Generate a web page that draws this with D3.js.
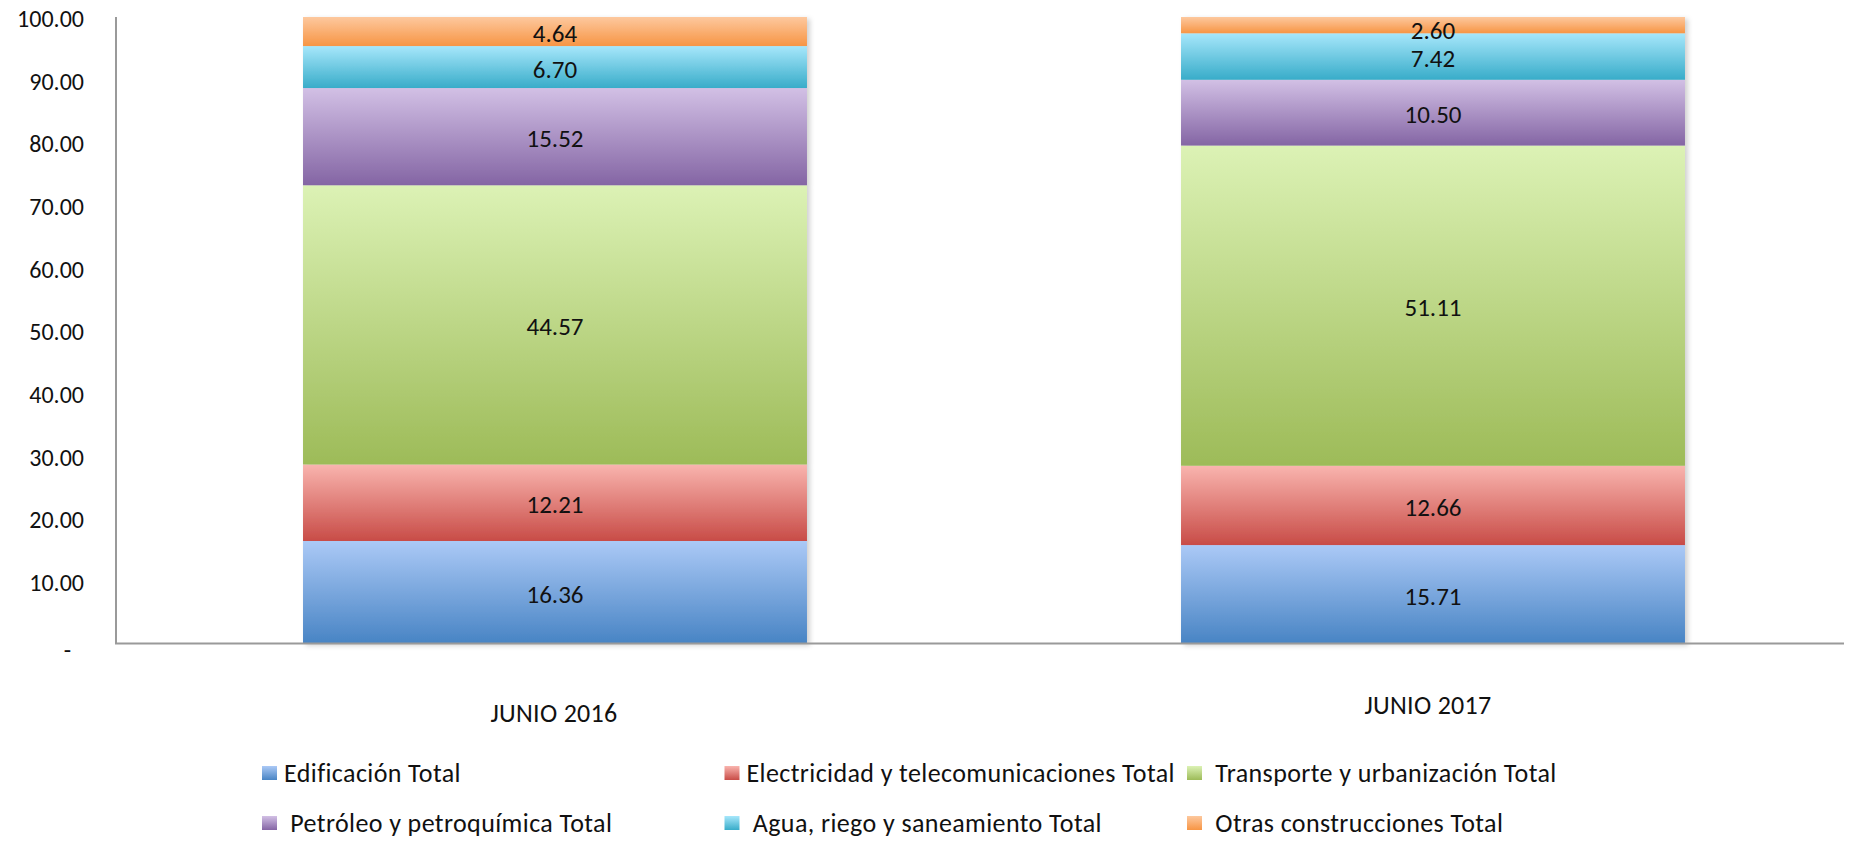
<!DOCTYPE html>
<html>
<head>
<meta charset="utf-8">
<script src="https://cdn.jsdelivr.net/npm/d3@7"></script>
<style>
  body { margin: 0; background: #fff; }
  svg text { font-family: Carlito, Lato, sans-serif; fill: #111; white-space: pre; }
</style>
</head>
<body>
<div id="chart"></div>
<script>
// datos
const periods = ['JUNIO 2016', 'JUNIO 2017'];
const seriesNames = ['Edificación Total', 'Electricidad y telecomunicaciones Total', ' Transporte y urbanización Total',
  ' Petróleo y petroquímica Total', ' Agua, riego y saneamiento Total', ' Otras construcciones Total'];
const edificacion = [16.36, 15.71];
const electricidad = [12.21, 12.66];
const transporte = [44.57, 51.11];
const petroleo = [15.52, 10.50];
const agua = [6.70, 7.42];
const otras = [4.64, 2.60];
const yTicks = [0, 10, 20, 30, 40, 50, 60, 70, 80, 90, 100];

// colores (claro arriba, oscuro abajo)
const topColors = ['#abc9f6', '#f9b4ae', '#dcf2b5', '#d2c0e5', '#a7e7fb', '#fdc89e'];
const bottomColors = ['#4884c4', '#c84c47', '#9dbb58', '#8465a4', '#38acc9', '#f79544'];

const width = 1868, height = 841;
const values = [edificacion, electricidad, transporte, petroleo, agua, otras];

const table = periods.map((p, i) => {
  const row = { period: p };
  seriesNames.forEach((s, k) => row['s' + k] = values[k][i]);
  return row;
});
const keys = seriesNames.map((s, k) => 's' + k);
const stacked = d3.stack().keys(keys)(table);

const svg = d3.select('#chart').append('svg')
  .attr('width', width)
  .attr('height', height);

const defs = svg.append('defs');
keys.forEach((k, i) => {
  const g = defs.append('linearGradient').attr('id', 'grad' + i)
    .attr('x1', 0).attr('y1', 0).attr('x2', 0).attr('y2', 1);
  g.append('stop').attr('offset', '0%').attr('stop-color', topColors[i]);
  g.append('stop').attr('offset', '100%').attr('stop-color', bottomColors[i]);
});
const shadow = defs.append('filter').attr('id', 'shadow')
  .attr('x', '-5%').attr('y', '-5%').attr('width', '115%').attr('height', '115%');
shadow.append('feDropShadow').attr('dx', 3).attr('dy', 2).attr('stdDeviation', 2.5)
  .attr('flood-color', '#000').attr('flood-opacity', 0.18);

const x = d3.scaleBand()
  .domain(periods)
  .range([116, 1872])
  .paddingInner(0.426)
  .paddingOuter(0.213);

const y = d3.scaleLinear()
  .domain([0, 100])
  .range([643.5, 17]);

// eje y
const yAxis = svg.append('g')
  .attr('transform', 'translate(116,0)')
  .call(d3.axisLeft(y).tickValues(yTicks).tickSize(0).tickPadding(32)
    .tickFormat(d => d === 0 ? '-' : d3.format('.2f')(d)));
yAxis.select('.domain').remove();
yAxis.selectAll('text')
  .style('font-size', '24px')
  .attr('dy', '0.4em')
  .attr('dx', d => d === 0 ? -13 : 0)
  .attr('y', d => d === 0 ? 4 : 0);

// barras
const layers = svg.append('g').attr('filter', 'url(#shadow)')
  .selectAll('g')
  .data(stacked)
  .enter().append('g')
  .attr('fill', (d, i) => `url(#grad${i})`);

layers.selectAll('rect')
  .data(d => d)
  .enter().append('rect')
  .attr('x', d => x(d.data.period))
  .attr('width', x.bandwidth())
  .attr('y', d => y(d[1]))
  .attr('height', d => y(d[0]) - y(d[1]));

// etiquetas de datos
const labels = svg.append('g');
stacked.forEach(layer => {
  labels.selectAll(null)
    .data(layer)
    .enter().append('text')
    .attr('x', d => x(d.data.period) + x.bandwidth() / 2)
    .attr('y', d => y((d[0] + d[1]) / 2))
    .attr('dy', d => (d[1] - d[0]) < 4 ? '0.55em' : '0.42em')
    .attr('text-anchor', 'middle')
    .style('font-size', '25px')
    .text(d => d3.format('.2f')(d[1] - d[0]));
});

// ejes
svg.append('line')
  .attr('x1', 116).attr('x2', 116)
  .attr('y1', y(100)).attr('y2', y(0))
  .attr('stroke', '#9a9a9a').attr('stroke-width', 2);
svg.append('line')
  .attr('x1', 115).attr('x2', 1844)
  .attr('y1', y(0)).attr('y2', y(0))
  .attr('stroke', '#9a9a9a').attr('stroke-width', 2);

// categorias
const catOffset = [0, -8];
svg.append('g')
  .selectAll('text')
  .data(periods)
  .enter().append('text')
  .attr('x', (d, i) => x(d) + x.bandwidth() / 2 - (i === 0 ? 1 : 5))
  .attr('y', (d, i) => 713 + catOffset[i])
  .attr('dy', '0.35em')
  .attr('text-anchor', 'middle')
  .style('font-size', '26px')
  .style('letter-spacing', '0.3px')
  .text(d => d);

// leyenda
const legend = svg.append('g')
  .selectAll('g')
  .data(seriesNames)
  .enter().append('g')
  .attr('transform', (d, i) => `translate(${262 + (i % 3) * 462.5},${773 + Math.floor(i / 3) * 50})`);

legend.append('rect')
  .attr('x', 0).attr('y', -7)
  .attr('width', 15).attr('height', 14)
  .attr('fill', (d, i) => `url(#grad${i})`);

legend.append('text')
  .attr('x', 22)
  .attr('dy', '0.35em')
  .style('font-size', '26px')
  .style('letter-spacing', '0.4px')
  .text(d => d);
</script>
</body>
</html>
